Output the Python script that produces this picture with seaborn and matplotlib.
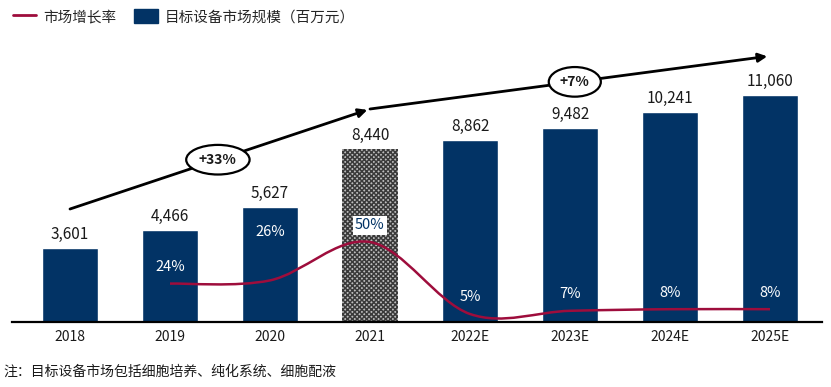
import numpy as np
import pandas as pd
import matplotlib
matplotlib.use("Agg")
import matplotlib.pyplot as plt
from matplotlib.path import Path
from matplotlib.patches import PathPatch, Patch
from matplotlib.lines import Line2D
import seaborn as sns

# data
years = ["2018", "2019", "2020", "2021", "2022E", "2023E", "2024E", "2025E"]
market_size = [3601, 4466, 5627, 8440, 8862, 9482, 10241, 11060]
growth_years = ["2019", "2020", "2021", "2022E", "2023E", "2024E", "2025E"]
growth_rate = [24, 26, 50, 5, 7, 8, 8]
cagr_labels = ["+33%", "+7%"]

NAVY = "#023365"
CRIMSON = "#9E0D3C"

sns.set_theme(style="white")
plt.rcParams["font.family"] = ["Noto Sans CJK SC", "DejaVu Sans"]
plt.rcParams["hatch.linewidth"] = 1.1

fig = plt.figure(figsize=(8.31, 3.87), dpi=100)
ax = fig.add_axes([12 / 831, 65 / 387, 810 / 831, 292 / 387])

df = pd.DataFrame({"year": years, "size": market_size})
colors = [NAVY] * len(years)
sns.barplot(data=df, x="year", y="size", hue="year", palette=colors, legend=False,
            width=0.56, ax=ax, saturation=1)

# 2021 bar is shown with a checker pattern
for i, p in enumerate(ax.patches):
    if years[i] == "2021":
        p.set_facecolor("#bdbdbd")
        p.set_edgecolor("#3a3a3a")
        p.set_hatch("xxxxxxx")
        p.set_linewidth(0)
    ax.text(p.get_x() + p.get_width() / 2, p.get_height() + 250, f"{market_size[i]:,}",
            ha="center", va="bottom", fontsize=11, color="#1a1a1a")

ax.set_xlim(-0.58, 7.52)
ax.set_ylim(0, 14244)
ax.set_xlabel("")
ax.set_ylabel("")
ax.set_yticks([])
ax.tick_params(axis="x", length=0, labelsize=10, pad=6, colors="#1a1a1a")
for s in ["top", "right", "left"]:
    ax.spines[s].set_visible(False)
ax.spines["bottom"].set_color("black")
ax.spines["bottom"].set_linewidth(1.6)

# growth rate on a secondary axis, smoothed line
ax2 = ax.twinx()
ax2.set_ylim(0, 182.5)
ax2.set_yticks([])
for s in ax2.spines.values():
    s.set_visible(False)
gx = [years.index(y) for y in growth_years]
pts = np.column_stack([gx, growth_rate]).astype(float)
ext = np.vstack([pts[0], pts, pts[-1]])
verts = [tuple(pts[0])]
codes = [Path.MOVETO]
for k in range(1, len(ext) - 2):
    p0, p1, p2, p3 = ext[k - 1], ext[k], ext[k + 1], ext[k + 2]
    c1 = p1 + (p2 - p0) / 6
    c2 = p2 - (p3 - p1) / 6
    verts += [tuple(c1), tuple(c2), tuple(p2)]
    codes += [Path.CURVE4] * 3
ax2.add_patch(PathPatch(Path(verts, codes), fc="none", ec=CRIMSON, lw=1.8, zorder=3))

for x, v in zip(gx, growth_rate):
    dy = 35 if growth_years[gx.index(x)] == "2020" else 12
    if growth_years[gx.index(x)] == "2021":
        ax2.annotate(f"{v}%", (x, v), xytext=(0, dy), textcoords="offset points",
                     ha="center", va="center", fontsize=10.5, color=NAVY,
                     bbox=dict(boxstyle="square,pad=0.15", fc="white", ec="none"))
    else:
        ax2.annotate(f"{v}%", (x, v), xytext=(0, dy), textcoords="offset points",
                     ha="center", va="center", fontsize=10.5, color="white")

# CAGR arrows
a0 = (0, 5512)
a1 = (3, 10390)
a2 = (7, 12976)
for (s, e) in [(a0, a1), (a1, a2)]:
    ax.annotate("", xy=e, xytext=s,
                arrowprops=dict(arrowstyle="-|>", color="black", lw=2, mutation_scale=13,
                                shrinkA=0, shrinkB=2), zorder=4)
for (s, e, frac), lab in zip([(a0, a1, 0.493), (a1, a2, 0.512)], cagr_labels):
    cx = s[0] + (e[0] - s[0]) * frac
    cy = s[1] + (e[1] - s[1]) * frac
    ax.text(cx, cy, lab, ha="center", va="center", fontsize=10, fontweight="bold",
            color="#1a1a1a", zorder=6,
            bbox=dict(boxstyle="ellipse,pad=0.25", fc="white", ec="black", lw=1.6))

handles = [Line2D([0], [0], color=CRIMSON, lw=2),
           Patch(facecolor=NAVY, edgecolor=NAVY)]
fig.legend(handles, ["市场增长率", "目标设备市场规模（百万元）"], loc="upper left",
           bbox_to_anchor=(0.0, 1.01), ncol=2, frameon=False, fontsize=10.5,
           handlelength=1.6, handleheight=1.1, columnspacing=1.2, handletextpad=0.5)

fig.text(3 / 831, 1 - 372 / 387, "注：目标设备市场包括细胞培养、纯化系统、细胞配液",
         ha="left", va="center", fontsize=10, color="#1a1a1a")

fig.savefig("out.png", dpi=100)
